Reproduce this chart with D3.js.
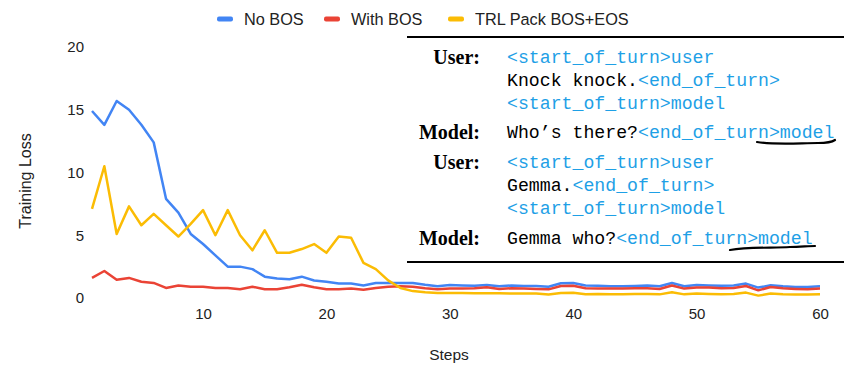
<!DOCTYPE html>
<html>
<head>
<meta charset="utf-8">
<script src="https://cdn.jsdelivr.net/npm/d3@7"></script>
<style>
  body { margin: 0; background: #fff; }
  svg { display: block; }
</style>
</head>
<body>
<div id="chart"></div>
<script>
// Data
const steps = [1,2,3,4,5,6,7,8,9,10,11,12,13,14,15,16,17,18,19,20,
  21,22,23,24,25,26,27,28,29,30,31,32,33,34,35,36,37,38,39,40,
  41,42,43,44,45,46,47,48,49,50,51,52,53,54,55,56,57,58,59,60];
const noBos = [14.9,13.8,15.7,15.0,13.8,12.4,7.9,6.8,5.1,4.3,
  3.4,2.5,2.5,2.3,1.7,1.55,1.5,1.7,1.4,1.3,
  1.15,1.15,1.0,1.2,1.2,1.2,1.2,1.05,0.93,1.04,
  1.0,0.97,1.04,0.93,1.0,0.95,0.95,0.9,1.17,1.2,
  0.99,0.97,0.93,0.93,0.96,0.99,0.93,1.2,0.93,1.04,
  1.0,0.98,1.0,1.15,0.83,1.01,0.93,0.88,0.88,0.93];
const withBos = [1.6,2.15,1.45,1.6,1.3,1.2,0.8,1.0,0.9,0.9,
  0.8,0.8,0.7,0.9,0.7,0.7,0.85,1.05,0.85,0.7,
  0.7,0.75,0.65,0.8,0.9,0.93,0.9,0.77,0.69,0.75,
  0.75,0.77,0.85,0.72,0.78,0.75,0.72,0.69,0.96,0.98,
  0.77,0.75,0.75,0.75,0.77,0.77,0.72,1.0,0.75,0.83,
  0.83,0.77,0.8,0.96,0.61,0.88,0.77,0.72,0.69,0.75];
const trlPack = [7.1,10.5,5.1,7.3,5.8,6.7,5.8,4.9,5.9,7.0,
  5.0,7.0,5.0,3.8,5.4,3.6,3.6,3.9,4.3,3.6,
  4.9,4.8,2.8,2.3,1.4,0.8,0.55,0.45,0.4,0.4,
  0.4,0.38,0.38,0.38,0.36,0.36,0.36,0.27,0.4,0.42,
  0.29,0.31,0.29,0.29,0.31,0.31,0.29,0.45,0.29,0.35,
  0.31,0.29,0.31,0.43,0.19,0.35,0.29,0.27,0.27,0.29];
const seriesNames = ["No BOS", "With BOS", "TRL Pack BOS+EOS"];
const seriesColors = ["#4285f4", "#ea4335", "#fbbc04"];
const yTicks = [0, 5, 10, 15, 20];
const xTicks = [10, 20, 30, 40, 50, 60];

// Overlay text (prompt example)
const dialog = [
  { who: "User:", parts: [["<start_of_turn>user", 1]] },
  { who: "", parts: [["Knock knock.", 0], ["<end_of_turn>", 1]] },
  { who: "", parts: [["<start_of_turn>model", 1]] },
  { who: "Model:", parts: [["Who’s there?", 0], ["<end_of_turn>model", 1]] },
  { who: "User:", parts: [["<start_of_turn>user", 1]] },
  { who: "", parts: [["Gemma.", 0], ["<end_of_turn>", 1]] },
  { who: "", parts: [["<start_of_turn>model", 1]] },
  { who: "Model:", parts: [["Gemma who?", 0], ["<end_of_turn>model", 1]] }
];
const dialogY = [57, 80, 103, 132, 162, 185, 208, 238];

// Chart constants
const width = 844, height = 376;
const svg = d3.select("#chart").append("svg")
  .attr("width", width)
  .attr("height", height);

const x = d3.scaleLinear().domain([1, 60]).range([92, 820]);
const y = d3.scaleLinear().domain([0, 20]).range([298, 47]);

const font = "Arial, 'Liberation Sans', sans-serif";

// Axes (labels only)
const yAxis = svg.append("g")
  .attr("transform", `translate(${x.range()[0]},0)`)
  .call(d3.axisLeft(y).tickValues(yTicks).tickSize(0).tickPadding(8));
const xAxis = svg.append("g")
  .attr("transform", `translate(0,${y(0) + 4})`)
  .call(d3.axisBottom(x).tickValues(xTicks).tickSize(0).tickPadding(6));
[yAxis, xAxis].forEach(a => {
  a.select(".domain").remove();
  a.selectAll("text")
    .attr("font-family", font)
    .attr("font-size", 15)
    .attr("fill", "#222");
});

svg.append("text")
  .attr("x", 449).attr("y", 360)
  .attr("text-anchor", "middle")
  .attr("font-family", font).attr("font-size", 15.5).attr("fill", "#222")
  .text("Steps");
svg.append("text")
  .attr("transform", "translate(31,181) rotate(-90)")
  .attr("text-anchor", "middle")
  .attr("font-family", font).attr("font-size", 16).attr("fill", "#222")
  .text("Training Loss");

// Lines
const line = d3.line()
  .x((d, i) => x(steps[i]))
  .y(d => y(d));
[noBos, withBos, trlPack].forEach((s, i) => {
  svg.append("path")
    .datum(s)
    .attr("fill", "none")
    .attr("stroke", seriesColors[i])
    .attr("stroke-width", 2.5)
    .attr("stroke-linejoin", "round")
    .attr("d", line);
});

// Legend
const legendX = [217, 324, 448];
const legend = svg.append("g");
seriesNames.forEach((name, i) => {
  legend.append("rect")
    .attr("x", legendX[i]).attr("y", 16.5)
    .attr("width", 16).attr("height", 5).attr("rx", 2)
    .attr("fill", seriesColors[i]);
  legend.append("text")
    .attr("x", legendX[i] + 27).attr("y", 24.5)
    .attr("font-family", font).attr("font-size", 16.3).attr("fill", "#222")
    .text(name);
});

// Prompt box overlay
const box = svg.append("g");
box.append("rect")
  .attr("x", 396).attr("y", 36)
  .attr("width", width - 396).attr("height", 228)
  .attr("fill", "#fff");
[37, 262].forEach(yy => {
  box.append("line")
    .attr("x1", 407).attr("x2", width)
    .attr("y1", yy).attr("y2", yy)
    .attr("stroke", "#000").attr("stroke-width", 2);
});

dialog.forEach((row, i) => {
  if (row.who) {
    box.append("text")
      .attr("x", 480).attr("y", dialogY[i])
      .attr("dy", "0.35em")
      .attr("text-anchor", "end")
      .attr("font-family", "'Liberation Serif', 'Times New Roman', serif")
      .attr("font-weight", "bold")
      .attr("font-size", 20)
      .attr("fill", "#000")
      .text(row.who);
  }
  const t = box.append("text")
    .attr("x", 507).attr("y", dialogY[i])
    .attr("dy", "0.35em")
    .attr("font-family", "'Liberation Mono', 'Courier New', monospace")
    .attr("font-size", 18.2);
  row.parts.forEach(p => {
    t.append("tspan")
      .attr("fill", p[1] ? "#1ea0e6" : "#000")
      .text(p[0]);
  });
});

// Hand-drawn underlines
box.append("path")
  .attr("d", "M757,142 C775,145 800,143 818,143 C826,143 832,142 835,140")
  .attr("fill", "none").attr("stroke", "#000").attr("stroke-width", 2.2)
  .attr("stroke-linecap", "round");
box.append("path")
  .attr("d", "M730,250 C748,247 772,248 790,247 C800,247 808,246 815,246")
  .attr("fill", "none").attr("stroke", "#000").attr("stroke-width", 2.2)
  .attr("stroke-linecap", "round");
</script>
</body>
</html>
